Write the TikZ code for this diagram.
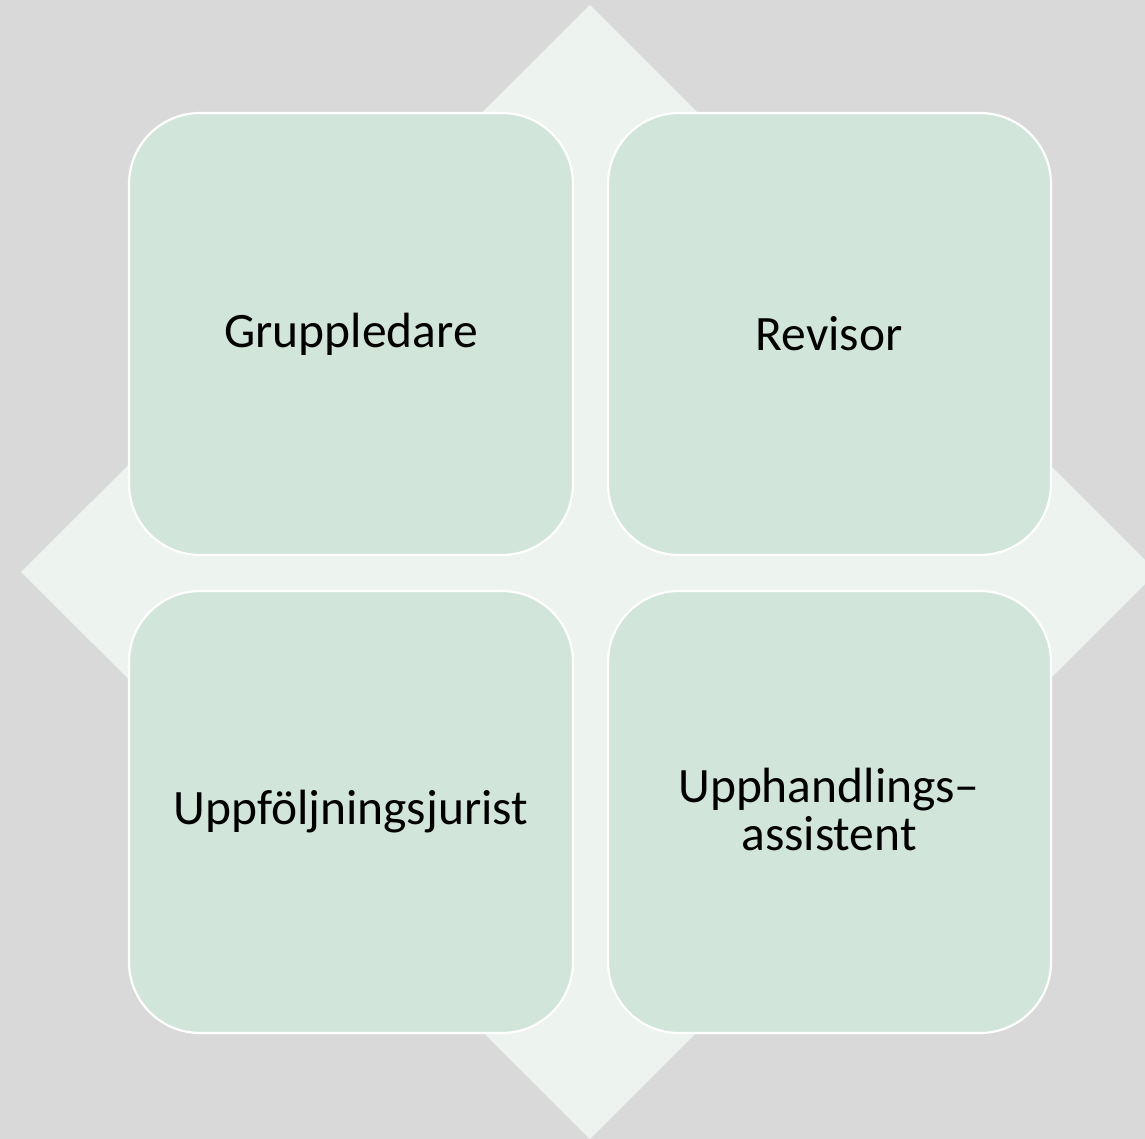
\documentclass[tikz,border=0pt]{standalone}
\usepackage{fontspec}
\setmainfont{Carlito}
\definecolor{bgc}{HTML}{D9D9D9}
\definecolor{diac}{HTML}{EDF3EF}
\definecolor{boxc}{HTML}{D2E5DB}
\begin{document}
\begin{tikzpicture}[x=1pt,y=-1pt,
  rolebox/.style={fill=boxc,draw=white,line width=2.2pt,rounded corners=71pt},
  roletext/.style={font=\fontsize{49.5}{48}\selectfont,align=center,text=black,inner sep=0pt}]
\fill[bgc] (0,0) rectangle (1145,1139);
\useasboundingbox (0,0) rectangle (1145,1139);
\fill[diac] (590,5) -- (1157,572) -- (590,1139) -- (21,572) -- cycle;
\draw[rolebox] (129,113) rectangle (573,555);
\draw[rolebox] (608,113) rectangle (1051,555);
\draw[rolebox] (129,591) rectangle (573,1033);
\draw[rolebox] (608,591) rectangle (1051,1033);
\node[roletext] (a) at (351,334) {Gruppledare};
\node[roletext] (b) at (829,334) {Revisor};
\node[roletext] (c) at (351,812) {Uppföljningsjurist};
\node[roletext] (d) at (829,809) {Upphandlings–\\assistent};
\end{tikzpicture}
\end{document}
